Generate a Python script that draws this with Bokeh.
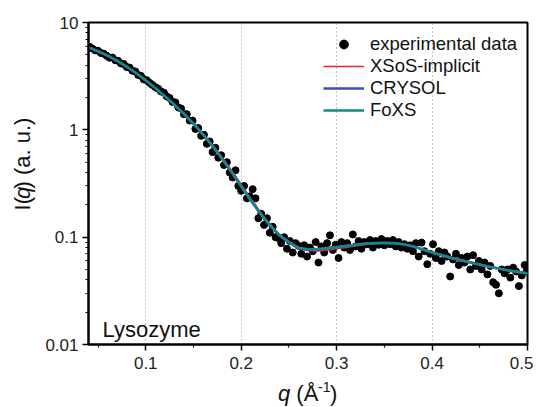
import math
from bokeh.plotting import figure
from bokeh.layouts import row, column
from bokeh.core.properties import value
from bokeh.models import (FixedTicker, CustomJSTickFormatter, Label, Legend, LegendItem,
                          ColumnDataSource, Range1d)
from bokeh.embed import file_html
from bokeh.resources import INLINE

# ---------------- data ----------------
exp_q = [0.041, 0.044, 0.047, 0.050, 0.053, 0.056, 0.059, 0.062, 0.065, 0.068,
         0.071, 0.074, 0.077, 0.080, 0.083, 0.086, 0.089, 0.092, 0.095, 0.098,
         0.101, 0.104, 0.107, 0.110, 0.113, 0.116, 0.119, 0.122, 0.125, 0.128,
         0.131, 0.134, 0.137, 0.140, 0.143, 0.146, 0.149, 0.152, 0.155, 0.158,
         0.161, 0.164, 0.167, 0.170, 0.173, 0.176, 0.179, 0.182, 0.185, 0.188,
         0.191, 0.194, 0.197, 0.200, 0.203, 0.206, 0.209, 0.212, 0.215, 0.218,
         0.221, 0.224, 0.227, 0.230, 0.233, 0.236, 0.239, 0.242, 0.245, 0.248,
         0.251, 0.254, 0.257, 0.260, 0.263, 0.266, 0.269, 0.272, 0.275, 0.278,
         0.281, 0.284, 0.287, 0.290, 0.293, 0.296, 0.299, 0.302, 0.305, 0.308,
         0.311, 0.314, 0.317, 0.320, 0.323, 0.326, 0.329, 0.332, 0.335, 0.338,
         0.341, 0.344, 0.347, 0.350, 0.353, 0.356, 0.359, 0.362, 0.365, 0.368,
         0.371, 0.374, 0.377, 0.380, 0.383, 0.386, 0.389, 0.392, 0.395, 0.398,
         0.401, 0.404, 0.407, 0.410, 0.413, 0.416, 0.419, 0.422, 0.425, 0.428,
         0.431, 0.434, 0.437, 0.440, 0.443, 0.446, 0.449, 0.452, 0.455, 0.458,
         0.461, 0.464, 0.467, 0.470, 0.473, 0.476, 0.479, 0.482, 0.485, 0.488,
         0.491, 0.494, 0.497, 0.499]
exp_I = [5.95, 5.72, 5.50, 5.45, 5.20, 5.12, 4.90, 4.70, 4.72, 4.45,
         4.40, 4.15, 4.10, 3.85, 3.80, 3.55, 3.50, 3.25, 3.18, 2.95,
         2.90, 2.74, 2.62, 2.50, 2.42, 2.28, 2.22, 2.05, 1.98, 1.82,
         1.80, 1.62, 1.58, 1.40, 1.40, 1.22, 1.22, 1.02, 1.04, 0.88,
         0.90, 0.74, 0.78, 0.62, 0.68, 0.55, 0.58, 0.47, 0.50, 0.40,
         0.36, 0.42, 0.30, 0.27, 0.30, 0.23, 0.24, 0.28, 0.23, 0.15,
         0.165, 0.13, 0.15, 0.11, 0.125, 0.10, 0.098, 0.088, 0.10, 0.078,
         0.092, 0.072, 0.088, 0.083, 0.070, 0.084, 0.066, 0.080, 0.074, 0.090,
         0.058, 0.082, 0.072, 0.088, 0.104, 0.076, 0.085, 0.064, 0.090, 0.080,
         0.088, 0.076, 0.106, 0.082, 0.092, 0.078, 0.090, 0.086, 0.094, 0.080,
         0.092, 0.085, 0.096, 0.084, 0.092, 0.086, 0.094, 0.082, 0.090, 0.080,
         0.086, 0.078, 0.084, 0.074, 0.088, 0.066, 0.089, 0.074, 0.056, 0.070,
         0.086, 0.064, 0.074, 0.060, 0.072, 0.066, 0.043, 0.062, 0.070, 0.055,
         0.064, 0.058, 0.066, 0.050, 0.068, 0.054, 0.060, 0.050, 0.058, 0.045,
         0.054, 0.038, 0.036, 0.030, 0.050, 0.046, 0.050, 0.042, 0.052, 0.048,
         0.035, 0.044, 0.055, 0.048]

fit_q = [0.04, 0.05, 0.06, 0.07, 0.08, 0.09, 0.10, 0.11, 0.12, 0.13,
         0.14, 0.15, 0.16, 0.17, 0.18, 0.19, 0.20, 0.21, 0.22, 0.23,
         0.24, 0.25, 0.26, 0.27, 0.28, 0.29, 0.30, 0.31, 0.32, 0.33,
         0.34, 0.35, 0.36, 0.37, 0.38, 0.39, 0.40, 0.41, 0.42, 0.43,
         0.44, 0.45, 0.46, 0.47, 0.48, 0.49, 0.50]
xsos_I = [5.85, 5.40, 4.91, 4.40, 3.88, 3.37, 2.89, 2.45, 2.07, 1.72,
          1.42, 1.15, 0.92, 0.725, 0.555, 0.418, 0.31, 0.23, 0.172, 0.133,
          0.106, 0.089, 0.078, 0.075, 0.0745, 0.0755, 0.078, 0.080, 0.083, 0.0855,
          0.087, 0.0885, 0.088, 0.086, 0.082, 0.077, 0.0725, 0.069, 0.065, 0.062,
          0.059, 0.056, 0.053, 0.051, 0.049, 0.0475, 0.046]
crysol_I = [5.85, 5.40, 4.91, 4.40, 3.88, 3.37, 2.89, 2.45, 2.06, 1.71,
            1.41, 1.14, 0.905, 0.705, 0.538, 0.403, 0.298, 0.221, 0.166, 0.129,
            0.104, 0.0895, 0.079, 0.0765, 0.077, 0.0785, 0.0805, 0.083, 0.085, 0.087,
            0.088, 0.0885, 0.088, 0.086, 0.082, 0.077, 0.072, 0.068, 0.064, 0.061,
            0.058, 0.0555, 0.053, 0.051, 0.049, 0.0475, 0.046]
foxs_I = [5.85, 5.40, 4.91, 4.40, 3.88, 3.37, 2.89, 2.45, 2.06, 1.71,
          1.41, 1.14, 0.906, 0.705, 0.538, 0.403, 0.298, 0.221, 0.166, 0.1295,
          0.105, 0.090, 0.080, 0.077, 0.0775, 0.079, 0.081, 0.083, 0.085, 0.087,
          0.088, 0.0885, 0.088, 0.086, 0.082, 0.077, 0.072, 0.068, 0.064, 0.061,
          0.058, 0.0555, 0.053, 0.051, 0.049, 0.0475, 0.046]

x_ticks = [0.1, 0.2, 0.3, 0.4, 0.5]
x_minor = [0.05, 0.15, 0.25, 0.35, 0.45]
y_ticks = [0.01, 0.1, 1, 10]

series_labels = ["experimental data", "XSoS-implicit", "CRYSOL", "FoXS"]
panel_label = "Lysozyme"
x_title_parts = ["q", "(Å", "-1", ")"]
y_title_parts = ["I(", "q", ") (a. u.)"]

# ---------------- layout constants ----------------
FONT = "Liberation Sans"
X0, X1 = 0.04, 0.5
Y0, Y1 = 0.01, 10
W = 533                 # total width
YL_W = 40               # width of the y-title strip
FL, FT, FW, FH = 88, 22, 439, 322   # frame geometry in page pixels
MAIN_H = 376
XT_H = 30               # height of the x-title strip

# ---------------- main figure ----------------
p = figure(width=W - YL_W, height=MAIN_H, output_backend="svg", toolbar_location=None,
           y_axis_type="log", x_range=Range1d(X0, X1), y_range=Range1d(Y0, Y1),
           min_border_left=FL - YL_W, min_border_right=W - FL - FW, min_border_top=FT,
           min_border_bottom=MAIN_H - FT - FH)
p.background_fill_color = "white"
p.border_fill_color = "white"
p.outline_line_color = "black"
p.outline_line_width = 2

y_minor = [m * 10 ** e for e in (-2, -1, 0) for m in range(2, 10)]
p.xaxis.ticker = FixedTicker(ticks=x_ticks, minor_ticks=x_minor)
p.yaxis.ticker = FixedTicker(ticks=y_ticks, minor_ticks=y_minor)
p.yaxis.formatter = CustomJSTickFormatter(code="return Number(tick.toPrecision(3)).toString();")

for ax in (p.xaxis, p.yaxis):
    ax.axis_line_width = 2
    ax.axis_line_color = "black"
    ax.major_tick_line_width = 1.5
    ax.minor_tick_line_width = 1.2
    ax.major_tick_in = 0
    ax.major_tick_out = 6
    ax.minor_tick_in = 0
    ax.minor_tick_out = 3
    ax.major_label_text_font = FONT
    ax.major_label_text_font_size = "17px"
    ax.major_label_text_color = "#222222"
p.xaxis.major_label_standoff = 6
p.yaxis.major_label_standoff = 4

p.ygrid.visible = False
p.xgrid.ticker = FixedTicker(ticks=[0.1, 0.2, 0.3, 0.4])
p.xgrid.grid_line_color = "#8a8a8a"
p.xgrid.grid_line_dash = "1 3"
p.xgrid.grid_line_width = 1

src_exp = ColumnDataSource(dict(q=exp_q, I=exp_I))
src_fit = ColumnDataSource(dict(q=fit_q, xsos=xsos_I, crysol=crysol_I, foxs=foxs_I))

r_exp = p.scatter("q", "I", source=src_exp, size=7, color="black")
r_x = p.line("q", "xsos", source=src_fit, line_color="#e8222c", line_width=1.6)
r_c = p.line("q", "crysol", source=src_fit, line_color="#3a4fc4", line_width=2.6)
r_f = p.line("q", "foxs", source=src_fit, line_color="#138a84", line_width=2.4)

# legend: top-left corner at page (323, 33), rows of 22 px
LEG_LEFT, LEG_TOP, ROW_H = 323, 33, 22
legend = Legend(items=[LegendItem(label=series_labels[0], renderers=[r_exp]),
                       LegendItem(label=series_labels[1], renderers=[r_x]),
                       LegendItem(label=series_labels[2], renderers=[r_c]),
                       LegendItem(label=series_labels[3], renderers=[r_f])],
                location=(LEG_LEFT - FL, (FT + FH) - (LEG_TOP + 4 * ROW_H)),
                margin=0, padding=0, spacing=0,
                label_height=ROW_H, glyph_height=ROW_H, glyph_width=41, label_standoff=6,
                label_text_font=FONT, label_text_font_size="18.5px",
                label_text_color="#111111",
                border_line_color=None, background_fill_alpha=0)
p.add_layout(legend)

# panel label inside the frame
p.add_layout(Label(x=102 - FL, y=(FT + FH) - 329, x_units="screen", y_units="screen",
                   text=panel_label, text_font=FONT, text_font_size="22px",
                   text_color="#111111", text_align="left", text_baseline="alphabetic"))


def strip(width, height):
    f = figure(width=width, height=height, output_backend="svg", toolbar_location=None,
               x_range=Range1d(0, width), y_range=Range1d(0, height),
               x_axis_type=None, y_axis_type=None, min_border=0)
    f.outline_line_color = None
    f.background_fill_color = "white"
    f.border_fill_color = "white"
    f.grid.visible = False
    return f


# ---------------- y title strip ----------------
fy = strip(YL_W, MAIN_H)
y_px = [219.5, 206.0, 193.8]
y_style = ["normal", "italic", "normal"]
for t, py, st in zip(y_title_parts, y_px, y_style):
    fy.text(x=[22], y=[MAIN_H - py], text=[t], angle=math.pi / 2,
            text_font=value(FONT), text_font_size=value("22px"), text_font_style=st,
            text_color="#111111", text_align="left", text_baseline="middle")

# ---------------- x title strip ----------------
fx = strip(W, XT_H)
x_px = [277.5, 295.8, 317.5, 329.5]
x_py = [393, 393, 386, 393]
x_size = ["22px", "22px", "14px", "22px"]
x_style = ["italic", "normal", "normal", "normal"]
for t, px, py, sz, st in zip(x_title_parts, x_px, x_py, x_size, x_style):
    fx.text(x=[px], y=[XT_H - (py - MAIN_H)], text=[t],
            text_font=value(FONT), text_font_size=value(sz), text_font_style=st,
            text_color="#111111", text_align="left", text_baseline="middle")

layout = column(row(fy, p, spacing=0), fx, spacing=0)

open("out.html", "w").write(file_html(layout, INLINE))
